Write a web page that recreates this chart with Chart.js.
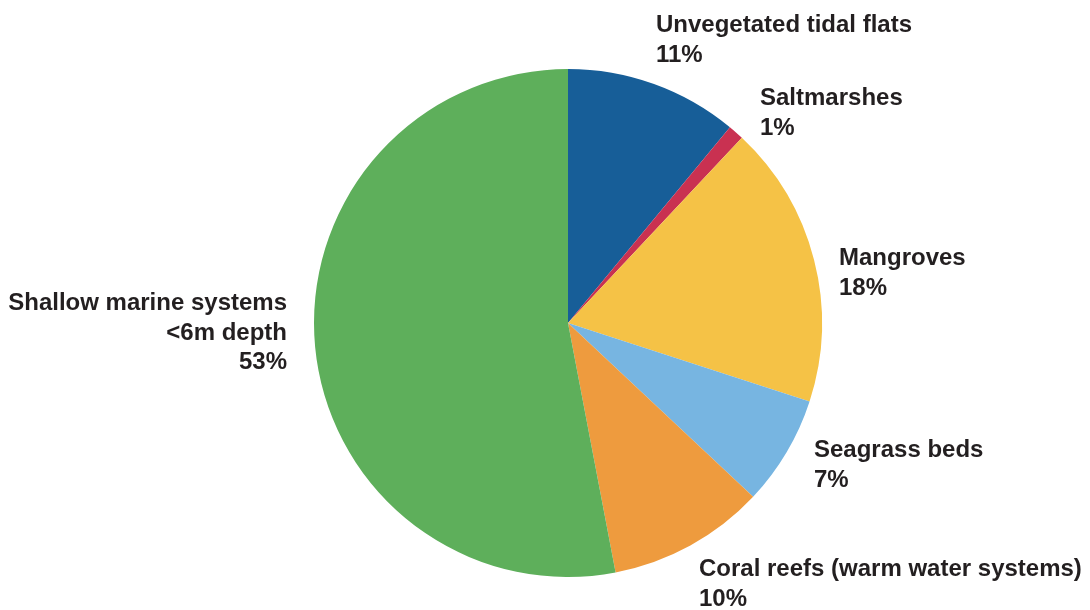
<!DOCTYPE html>
<html>
<head>
<meta charset="utf-8">
<script src="https://cdn.jsdelivr.net/npm/chart.js@4"></script>
<style>
html,body{margin:0;padding:0;background:#fff;}
#wrap{width:1090px;height:610px;position:relative;}
</style>
</head>
<body>
<div id="wrap"><canvas id="c" width="1090" height="610"></canvas></div>
<script>
const categories = ["Unvegetated tidal flats", "Saltmarshes", "Mangroves", "Seagrass beds", "Coral reefs (warm water systems)", "Shallow marine systems\n<6m depth"];
const shares = [11, 1, 18, 7, 10, 53];
const sliceColors = ["#175e98", "#c93151", "#f5c246", "#77b5e1", "#ee9b3e", "#5eaf5b"];

// label anchor: x, baseline of first line, alignment
const labelPlacement = [
  {x: 656, y: 32, align: "left"},
  {x: 760, y: 105, align: "left"},
  {x: 839, y: 265, align: "left"},
  {x: 814, y: 457, align: "left"},
  {x: 699, y: 576, align: "left"},
  {x: 287, y: 310, align: "right"}
];
const LINE_STEP = 29.5;

const FONT = "bold 24px \"Liberation Sans\", Arial, Helvetica, sans-serif";

const labelPlugin = {
  id: "labels",
  afterDraw(chart) {
    const ctx = chart.ctx;
    ctx.save();
    ctx.fillStyle = "#231f20";
    ctx.font = FONT;
    ctx.textBaseline = "alphabetic";
    categories.forEach((name, i) => {
      const p = labelPlacement[i];
      const lines = name.split("\n").concat([shares[i] + "%"]);
      ctx.textAlign = p.align;
      lines.forEach((ln, j) => ctx.fillText(ln, p.x, Math.round(p.y + j * LINE_STEP)));
    });
    ctx.restore();
  }
};

function build() {
  new Chart(document.getElementById("c"), {
    type: "pie",
    data: {
      labels: categories,
      datasets: [{
        data: shares,
        backgroundColor: sliceColors,
        borderWidth: 0
      }]
    },
    options: {
      responsive: false,
      animation: false,
      layout: {padding: {top: 69, bottom: 33, left: 314, right: 268}},
      plugins: {legend: {display: false}, tooltip: {enabled: false}}
    },
    plugins: [labelPlugin]
  });
}
if (document.fonts && document.fonts.load) {
  document.fonts.load(FONT).then(build, build);
} else {
  build();
}
</script>
</body>
</html>
